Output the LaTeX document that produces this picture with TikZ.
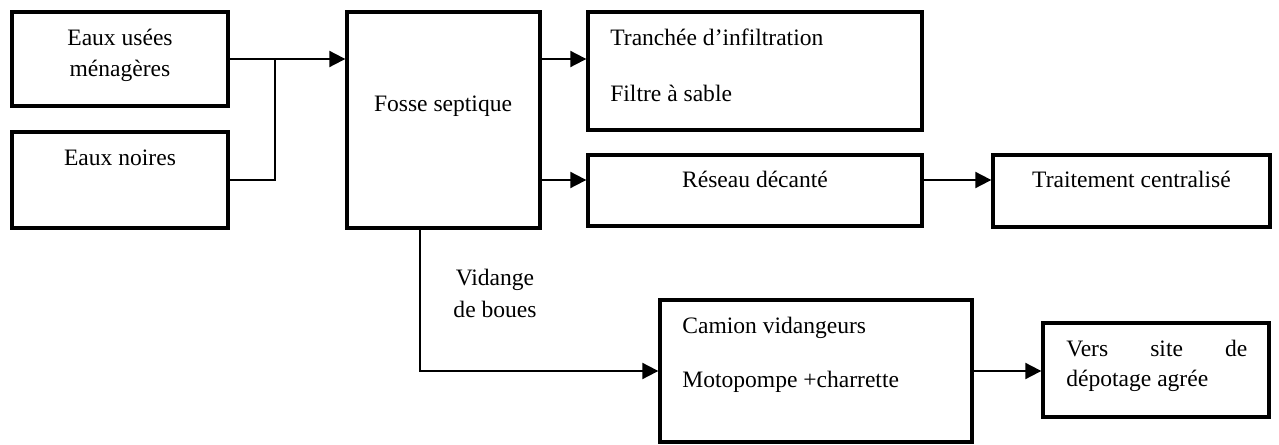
\documentclass[tikz,border=0pt]{standalone}
\usepackage{fontspec}
\setmainfont{Liberation Serif}
\usetikzlibrary{arrows.meta}
\begin{document}
\begin{tikzpicture}[every node/.style={font=\fontsize{13.4}{18}\selectfont},
  box/.style={draw,line width=1.9pt,inner sep=0pt},
  link/.style={line width=1.1pt},
  flow/.style={link,-{Triangle[length=0.32cm,width=0.32cm]}}]
  \useasboundingbox (0,0) rectangle (25.58,-8.90);
  % boxes
  \node[box,minimum width=4.32cm,minimum height=1.88cm] (A) at (2.40,-1.18) {};
  \node[box,minimum width=4.32cm,minimum height=1.92cm] (B) at (2.40,-3.60) {};
  \node[box,minimum width=3.86cm,minimum height=4.32cm] (fosse) at (8.87,-2.40) {};
  \node[box,minimum width=6.68cm,minimum height=2.36cm] (C) at (15.10,-1.42) {};
  \node[box,minimum width=6.68cm,minimum height=1.42cm] (D) at (15.10,-3.81) {};
  \node[box,minimum width=5.54cm,minimum height=1.44cm] (E) at (22.63,-3.82) {};
  \node[box,minimum width=6.24cm,minimum height=2.84cm] (F) at (16.32,-7.42) {};
  \node[box,minimum width=4.52cm,minimum height=1.88cm] (G) at (23.12,-7.40) {};
  % texts (base = last line)
  \node[anchor=base,align=center,inner sep=0pt] (tA) at (2.40,-1.54) {Eaux usées\\ménagères};
  \node[anchor=base,inner sep=0pt] (tB) at (2.40,-3.32) {Eaux noires};
  \node[anchor=base,inner sep=0pt] (tfosse) at (8.86,-2.24) {Fosse septique};
  \node[anchor=base west,align=left,inner sep=0pt] (tC) at (12.20,-2.04) {Tranchée d’infiltration\\[14.3pt]Filtre à sable};
  \node[anchor=base,inner sep=0pt] (tD) at (15.10,-3.76) {Réseau décanté};
  \node[anchor=base,inner sep=0pt] (tE) at (22.63,-3.76) {Traitement centralisé};
  \node[anchor=base west,align=left,inner sep=0pt] (tF) at (13.64,-7.74) {Camion vidangeurs\\[12.6pt]Motopompe +charrette};
  \node[anchor=base west,text width=3.62cm,align=justify,inner sep=0pt,font=\fontsize{13.4}{17}\selectfont] (tG) at (21.32,-7.14) {Vers site de\linebreak dépotage agrée};
  \node[anchor=base,align=center,inner sep=0pt] (vidange) at (9.90,-6.34) {Vidange\\de boues};
  % connectors
  \coordinate (j) at (5.50,-1.18);
  \draw[flow] (A.east) -- (A.east -| fosse.west);
  \draw[link] (B.east) -| (j);
  \draw[flow] (fosse.east |- A.east) -- (C.west |- A.east);
  \draw[flow] (fosse.east |- B.east) -- (D.west |- B.east);
  \draw[flow] (D.east |- B.east) -- (E.west |- B.east);
  \draw[flow] ([xshift=-0.47cm]fosse.south) |- (F.west);
  \draw[flow] (F.east) -- (F.east -| G.west);
\end{tikzpicture}
\end{document}
